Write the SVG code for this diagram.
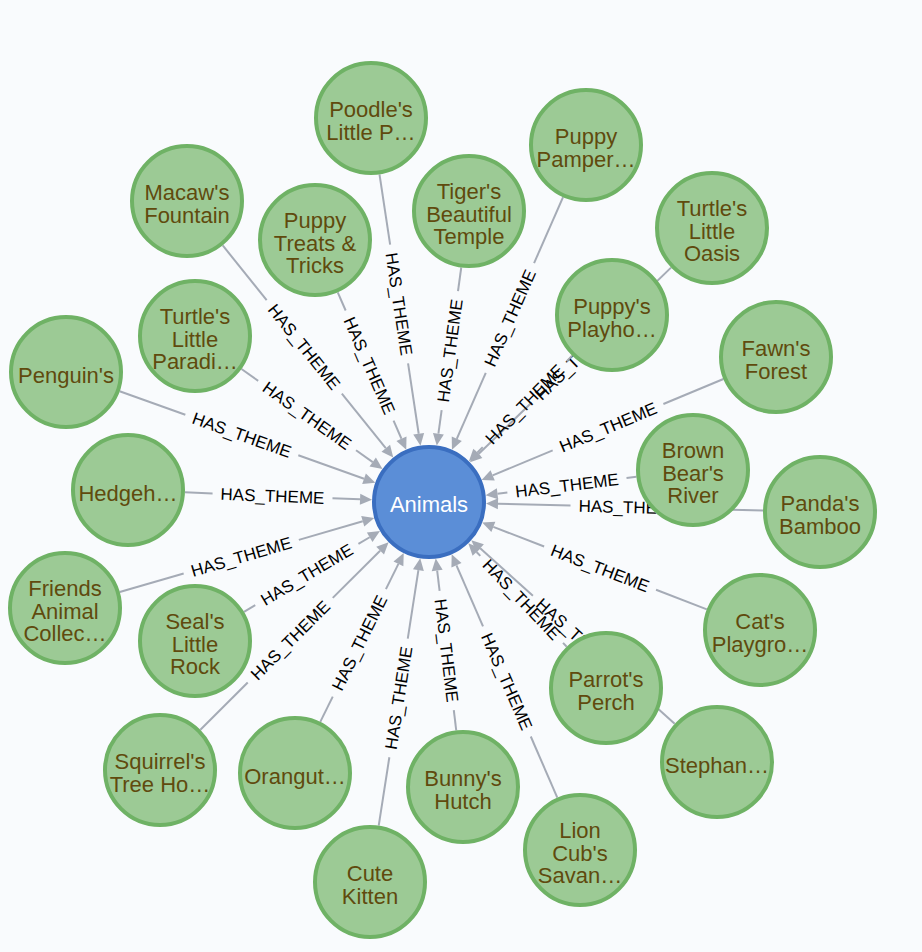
<svg xmlns="http://www.w3.org/2000/svg" width="922" height="952" viewBox="0 0 922 952">
<style>
.bg{fill:#f9fbfd}
.n circle{fill:#9cca95;stroke:#6fb265;stroke-width:4}
.n text{font-family:"Liberation Sans",Arial,Helvetica,sans-serif;font-size:22px;fill:#604a0e;text-anchor:middle}
#animals circle{fill:#5b8ed7;stroke:#3a6ec0;stroke-width:4}
#animals text{fill:#ffffff}
.e line{stroke:#a5abb6;stroke-width:2}
.e use{fill:#a5abb6}
.e text{font-family:"Liberation Sans",Arial,Helvetica,sans-serif;font-size:17px;fill:#000000;text-anchor:middle}
</style>
<defs>
<polygon id="ah" points="57,0 69,-5.5 69,5.5" fill="#a5abb6"/>
</defs>
<rect class="bg" x="0" y="0" width="922" height="952"/>
<g id="connectors" class="e">
<g transform="translate(429 502) rotate(-98.59)"><use href="#ah"/><line x1="69" y1="0" x2="140.2" y2="0"/><line x1="260.2" y1="0" x2="331.4" y2="0"/><text x="200.2" y="6" transform="rotate(180 200.2 0)">HAS_THEME</text></g>
<g transform="translate(429 502) rotate(-66.26)"><use href="#ah"/><line x1="69" y1="0" x2="141" y2="0"/><line x1="261" y1="0" x2="333" y2="0"/><text x="201" y="6">HAS_THEME</text></g>
<g transform="translate(429 502) rotate(-128.8)"><use href="#ah"/><line x1="69" y1="0" x2="139.1" y2="0"/><line x1="259.1" y1="0" x2="329.2" y2="0"/><text x="199.1" y="6" transform="rotate(180 199.1 0)">HAS_THEME</text></g>
<g transform="translate(429 502) rotate(-82.17)"><use href="#ah"/><line x1="69" y1="0" x2="92.85" y2="0"/><line x1="212.85" y1="0" x2="236.7" y2="0"/><text x="152.85" y="6">HAS_THEME</text></g>
<g transform="translate(429 502) rotate(-113.52)"><use href="#ah"/><line x1="69" y1="0" x2="88.85" y2="0"/><line x1="208.85" y1="0" x2="228.7" y2="0"/><text x="148.85" y="6" transform="rotate(180 148.85 0)">HAS_THEME</text></g>
<g transform="translate(429 502) rotate(-44.08)"><use href="#ah"/><line x1="69" y1="0" x2="142.95" y2="0"/><line x1="262.95" y1="0" x2="336.9" y2="0"/><text x="202.95" y="6">HAS_THEME</text></g>
<g transform="translate(429 502) rotate(-45.62)"><use href="#ah"/><line x1="69" y1="0" x2="76.8" y2="0"/><line x1="196.8" y1="0" x2="204.6" y2="0"/><text x="136.8" y="6">HAS_THEME</text></g>
<g transform="translate(429 502) rotate(-144.65)"><use href="#ah"/><line x1="69" y1="0" x2="89.45" y2="0"/><line x1="209.45" y1="0" x2="229.9" y2="0"/><text x="149.45" y="6" transform="rotate(180 149.45 0)">HAS_THEME</text></g>
<g transform="translate(429 502) rotate(-160.3)"><use href="#ah"/><line x1="69" y1="0" x2="138.8" y2="0"/><line x1="258.8" y1="0" x2="328.6" y2="0"/><text x="198.8" y="6" transform="rotate(180 198.8 0)">HAS_THEME</text></g>
<g transform="translate(429 502) rotate(-22.68)"><use href="#ah"/><line x1="69" y1="0" x2="134.05" y2="0"/><line x1="254.05" y1="0" x2="319.1" y2="0"/><text x="194.05" y="6">HAS_THEME</text></g>
<g transform="translate(429 502) rotate(-177.72)"><use href="#ah"/><line x1="69" y1="0" x2="96.6" y2="0"/><line x1="216.6" y1="0" x2="244.2" y2="0"/><text x="156.6" y="6" transform="rotate(180 156.6 0)">HAS_THEME</text></g>
<g transform="translate(429 502) rotate(-6.91)"><use href="#ah"/><line x1="69" y1="0" x2="78.95" y2="0"/><line x1="198.95" y1="0" x2="208.9" y2="0"/><text x="138.95" y="6">HAS_THEME</text></g>
<g transform="translate(429 502) rotate(1.46)"><use href="#ah"/><line x1="69" y1="0" x2="141.55" y2="0"/><line x1="261.55" y1="0" x2="334.1" y2="0"/><text x="201.55" y="6">HAS_THEME</text></g>
<g transform="translate(429 502) rotate(163.76)"><use href="#ah"/><line x1="69" y1="0" x2="135.55" y2="0"/><line x1="255.55" y1="0" x2="322.1" y2="0"/><text x="195.55" y="6" transform="rotate(180 195.55 0)">HAS_THEME</text></g>
<g transform="translate(429 502) rotate(149.29)"><use href="#ah"/><line x1="69" y1="0" x2="82.1" y2="0"/><line x1="202.1" y1="0" x2="215.2" y2="0"/><text x="142.1" y="6" transform="rotate(180 142.1 0)">HAS_THEME</text></g>
<g transform="translate(429 502) rotate(21.14)"><use href="#ah"/><line x1="69" y1="0" x2="123.45" y2="0"/><line x1="243.45" y1="0" x2="297.9" y2="0"/><text x="183.45" y="6">HAS_THEME</text></g>
<g transform="translate(429 502) rotate(46.42)"><use href="#ah"/><line x1="69" y1="0" x2="74.4" y2="0"/><line x1="194.4" y1="0" x2="199.8" y2="0"/><text x="134.4" y="6">HAS_THEME</text></g>
<g transform="translate(429 502) rotate(135.11)"><use href="#ah"/><line x1="69" y1="0" x2="135.85" y2="0"/><line x1="255.85" y1="0" x2="322.7" y2="0"/><text x="195.85" y="6" transform="rotate(180 195.85 0)">HAS_THEME</text></g>
<g transform="translate(429 502) rotate(116.31)"><use href="#ah"/><line x1="69" y1="0" x2="97.15" y2="0"/><line x1="217.15" y1="0" x2="245.3" y2="0"/><text x="157.15" y="6" transform="rotate(180 157.15 0)">HAS_THEME</text></g>
<g transform="translate(429 502) rotate(42.08)"><use href="#ah"/><line x1="69" y1="0" x2="140" y2="0"/><line x1="260" y1="0" x2="331" y2="0"/><text x="200" y="6">HAS_THEME</text></g>
<g transform="translate(429 502) rotate(83.2)"><use href="#ah"/><line x1="69" y1="0" x2="89.5" y2="0"/><line x1="209.5" y1="0" x2="230" y2="0"/><text x="149.5" y="6">HAS_THEME</text></g>
<g transform="translate(429 502) rotate(66.54)"><use href="#ah"/><line x1="69" y1="0" x2="135.65" y2="0"/><line x1="255.65" y1="0" x2="322.3" y2="0"/><text x="195.65" y="6">HAS_THEME</text></g>
<g transform="translate(429 502) rotate(98.83)"><use href="#ah"/><line x1="69" y1="0" x2="138.3" y2="0"/><line x1="258.3" y1="0" x2="327.6" y2="0"/><text x="198.3" y="6" transform="rotate(180 198.3 0)">HAS_THEME</text></g>
</g>
<g id="nodes">
<g id="animals" class="n"><circle cx="429" cy="502" r="55"/><text x="429" y="512">Animals</text></g>
<g id="poodle" class="n"><circle cx="371" cy="118" r="55"/><text x="371" y="117">Poodle's</text><text x="371" y="140">Little P…</text></g>
<g id="pamper" class="n"><circle cx="586" cy="145" r="55"/><text x="586" y="144">Puppy</text><text x="586" y="167">Pamper…</text></g>
<g id="macaw" class="n"><circle cx="187" cy="201" r="55"/><text x="187" y="200">Macaw's</text><text x="187" y="223">Fountain</text></g>
<g id="tiger" class="n"><circle cx="469" cy="211" r="55"/><text x="469" y="199">Tiger's</text><text x="469" y="221.5">Beautiful</text><text x="469" y="244">Temple</text></g>
<g id="treats" class="n"><circle cx="315" cy="240" r="55"/><text x="315" y="228">Puppy</text><text x="315" y="250.5">Treats &amp;</text><text x="315" y="273">Tricks</text></g>
<g id="oasis" class="n"><circle cx="712" cy="228" r="55"/><text x="712" y="216">Turtle's</text><text x="712" y="238.5">Little</text><text x="712" y="261">Oasis</text></g>
<g id="playhouse" class="n"><circle cx="612" cy="315" r="55"/><text x="612" y="314">Puppy's</text><text x="612" y="337">Playho…</text></g>
<g id="paradise" class="n"><circle cx="195" cy="336" r="55"/><text x="195" y="324">Turtle's</text><text x="195" y="346.5">Little</text><text x="195" y="369">Paradi…</text></g>
<g id="penguin" class="n"><circle cx="66" cy="372" r="55"/><text x="66" y="383">Penguin's</text></g>
<g id="fawn" class="n"><circle cx="776" cy="357" r="55"/><text x="776" y="356">Fawn's</text><text x="776" y="379">Forest</text></g>
<g id="hedgehog" class="n"><circle cx="128" cy="490" r="55"/><text x="128" y="501">Hedgeh…</text></g>
<g id="brownbear" class="n"><circle cx="693" cy="470" r="55"/><text x="693" y="458">Brown</text><text x="693" y="480.5">Bear's</text><text x="693" y="503">River</text></g>
<g id="panda" class="n"><circle cx="820" cy="512" r="55"/><text x="820" y="511">Panda's</text><text x="820" y="534">Bamboo</text></g>
<g id="friends" class="n"><circle cx="65" cy="608" r="55"/><text x="65" y="596">Friends</text><text x="65" y="618.5">Animal</text><text x="65" y="641">Collec…</text></g>
<g id="seal" class="n"><circle cx="195" cy="641" r="55"/><text x="195" y="629">Seal's</text><text x="195" y="651.5">Little</text><text x="195" y="674">Rock</text></g>
<g id="cat" class="n"><circle cx="760" cy="630" r="55"/><text x="760" y="629">Cat's</text><text x="760" y="652">Playgro…</text></g>
<g id="parrot" class="n"><circle cx="606" cy="688" r="55"/><text x="606" y="687">Parrot's</text><text x="606" y="710">Perch</text></g>
<g id="squirrel" class="n"><circle cx="160" cy="770" r="55"/><text x="160" y="769">Squirrel's</text><text x="160" y="792">Tree Ho…</text></g>
<g id="orangutan" class="n"><circle cx="295" cy="773" r="55"/><text x="295" y="784">Orangut…</text></g>
<g id="stephan" class="n"><circle cx="717" cy="762" r="55"/><text x="717" y="773">Stephan…</text></g>
<g id="bunny" class="n"><circle cx="463" cy="787" r="55"/><text x="463" y="786">Bunny's</text><text x="463" y="809">Hutch</text></g>
<g id="lioncub" class="n"><circle cx="580" cy="850" r="55"/><text x="580" y="838">Lion</text><text x="580" y="860.5">Cub's</text><text x="580" y="883">Savan…</text></g>
<g id="kitten" class="n"><circle cx="370" cy="882" r="55"/><text x="370" y="881">Cute</text><text x="370" y="904">Kitten</text></g>
</g>
</svg>
